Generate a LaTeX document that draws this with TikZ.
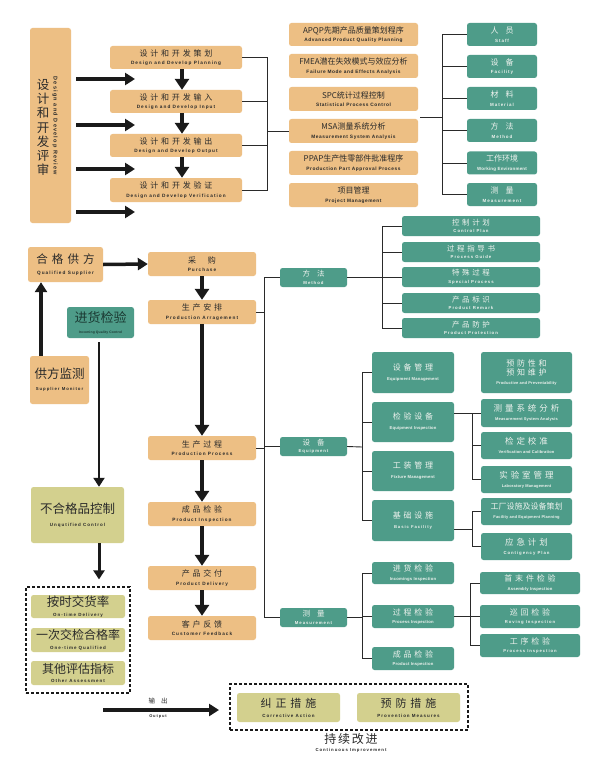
\documentclass[tikz,border=0pt]{standalone}
\usepackage{fontspec}
\setmainfont{Liberation Sans}
\newfontfamily\zhfont{Noto Sans CJK SC}
\newfontfamily\zhsp[LetterSpace=35]{Noto Sans CJK SC}
\newfontfamily\zhsm[LetterSpace=15]{Noto Sans CJK SC}
\newfontfamily\enfont[LetterSpace=22]{Liberation Sans}
\newfontfamily\enfontm[LetterSpace=12]{Liberation Sans}
\newfontfamily\enfontn[LetterSpace=4]{Liberation Sans}
\usetikzlibrary{arrows.meta}
\definecolor{orangeC}{HTML}{EDBF84}
\definecolor{greenC}{HTML}{4E9C89}
\definecolor{khakiC}{HTML}{D3D08E}
\definecolor{darkT}{HTML}{2A2A2A}
\definecolor{lightT}{HTML}{EEF2EE}
\definecolor{iqcT}{HTML}{1B3A33}
\definecolor{lineC}{HTML}{2A2A2A}
\definecolor{arrowC}{HTML}{1A1A1A}
\newcommand\ZS[2]{{\zhsp\fontsize{#1}{#1}\selectfont #2}}
\newcommand\ZN[2]{{\zhfont\fontsize{#1}{#1}\selectfont #2}}
\newcommand\ZM[2]{{\zhsm\fontsize{#1}{#1}\selectfont #2}}
\newcommand\ES[2]{{\enfont\bfseries\fontsize{#1}{#1}\selectfont #2}}
\newcommand\EM[2]{{\enfontm\bfseries\fontsize{#1}{#1}\selectfont #2}}
\newcommand\EN[2]{{\enfontn\bfseries\fontsize{#1}{#1}\selectfont #2}}
\tikzset{
 bx/.style={rounded corners=2.5pt, inner sep=0pt, align=center, font=\fontsize{5}{8.5}\selectfont},
 ob/.style={bx, fill=orangeC, text=darkT},
 gb/.style={bx, fill=greenC, text=lightT},
 kb/.style={bx, fill=khakiC, text=darkT},
 sz/.style 2 args={minimum width=#1pt, minimum height=#2pt},
 conn/.style={draw=lineC, line width=0.9pt},
 barrow/.style={draw=arrowC, line width=3.5pt, -{Triangle[length=10pt,width=12pt]}},
 darrow/.style={draw=arrowC, line width=4.5pt, -{Triangle[length=11pt,width=14pt]}},
 marrow/.style={draw=arrowC, line width=2.5pt, -{Triangle[length=9pt,width=11pt]}},
 dashbox/.style={draw=arrowC, line width=1.2pt, dash pattern=on 3pt off 2pt, inner sep=0pt},
 lbl/.style={inner sep=0pt, align=center, text=darkT},
}
\begin{document}
\begin{tikzpicture}[x=1pt,y=-1pt]
\fill[white] (0,0) rectangle (601,762);
\useasboundingbox (0,0) rectangle (601,762);

% ---------- design review ----------
\node[ob, sz={41}{195}] (rev) at (50.5,125.5) {};
\node[lbl, font=\zhfont\fontsize{12.5}{14.2}\selectfont] (revzh) at (43,127.5) {设\\计\\和\\开\\发\\评\\审};
\node[lbl, rotate=-90] (reven) at (55,126) {\ES{5.5}{Design and Develop Review}};

\node[ob, sz={132}{23}] (d1) at (176,57.5) {\ZS{8}{设计和开发策划}\\\ES{4.7}{Design and Develop Planning}};
\node[ob, sz={132}{23}] (d2) at (176,101.5) {\ZS{8}{设计和开发输入}\\\ES{4.7}{Design and Develop Input}};
\node[ob, sz={132}{23}] (d3) at (176,145.5) {\ZS{8}{设计和开发输出}\\\ES{4.7}{Design and Develop Output}};
\node[ob, sz={132}{24}] (d4) at (176,190) {\ZS{8}{设计和开发验证}\\\ES{4.7}{Design and Develop Verification}};

\foreach \y [count=\i] in {79,125,169,212}{
  \coordinate (la\i) at (76,\y);
  \coordinate (lb\i) at (135,\y);
  \draw[barrow] (la\i) -- (lb\i);
}
\draw[darrow] ([xshift=6pt]d1.south) -- ([xshift=6pt]d2.north);
\draw[darrow] ([xshift=6pt]d2.south) -- ([xshift=6pt]d3.north);
\draw[darrow] ([xshift=6pt]d3.south) -- ([xshift=6pt]d4.north);

% ---------- tools column ----------
\node[ob, sz={129}{23}] (p1) at (353.5,34.5) {\ZN{8}{APQP先期产品质量策划程序}\\\EM{4.8}{Advanced Product Quality Planning}};
\node[ob, sz={129}{24}] (p2) at (353.5,66) {\ZN{8}{FMEA潜在失效模式与效应分析}\\\EM{4.8}{Failure Mode and Effects Analysis}};
\node[ob, sz={129}{24}] (p3) at (353.5,99) {\ZN{8}{SPC统计过程控制}\\\EM{4.8}{Statistical Process Control}};
\node[ob, sz={129}{24}] (p4) at (353.5,131) {\ZN{8}{MSA测量系统分析}\\\EM{4.8}{Measurement System Analysis}};
\node[ob, sz={129}{24}] (p5) at (353.5,163) {\ZN{8}{PPAP生产性零部件批准程序}\\\EM{4.8}{Production Part Approval Process}};
\node[ob, sz={129}{24}] (p6) at (353.5,195) {\ZN{8}{项目管理}\\\EM{4.8}{Project Management}};

\coordinate (s1) at (267,131);
\foreach \i in {1,...,4}{\draw[conn] (d\i.east) -| (s1);}
\draw[conn] (s1) -- (p4.west);

% ---------- 5M1E ----------
\node[gb, sz={70}{23}] (g1) at (502,34.5) {\ZN{8}{人\hspace{7pt}员}\\\ES{4.5}{Staff}};
\node[gb, sz={70}{23}] (g2) at (502,66.5) {\ZN{8}{设\hspace{7pt}备}\\\ES{4.5}{Facility}};
\node[gb, sz={70}{23}] (g3) at (502,98.5) {\ZN{8}{材\hspace{7pt}料}\\\ES{4.5}{Material}};
\node[gb, sz={70}{23}] (g4) at (502,130.5) {\ZN{8}{方\hspace{7pt}法}\\\ES{4.5}{Method}};
\node[gb, sz={70}{23}] (g5) at (502,163) {\ZN{8}{工作环境}\\\EN{4.5}{Working Environment}};
\node[gb, sz={70}{23}] (g6) at (502,194.5) {\ZN{8}{测\hspace{7pt}量}\\\ES{4.5}{Measurement}};
\coordinate (r0) at (420,117);
\coordinate (s2) at (442,117);
\draw[conn] (r0) -- (s2);
\foreach \i in {1,...,6}{\draw[conn] (s2) |- (g\i.west);}

% ---------- supplier / production line ----------
\node[ob, sz={75}{35}, font=\fontsize{5}{11.5}\selectfont] (qs) at (65.5,264.5) {\ZS{11.5}{合格供方}\\\ES{4.7}{Qualified Supplier}};
\node[ob, sz={108}{24}] (pur) at (202,264) {\ZN{8}{采\hspace{12pt}购}\\\ES{4.7}{Purchase}};
\node[ob, sz={108}{24}] (pa) at (202,312) {\ZS{8}{生产安排}\\\ES{4.7}{Production Arragement}};
\node[ob, sz={108}{24}] (pp) at (202,448) {\ZS{8}{生产过程}\\\ES{4.7}{Production Process}};
\node[ob, sz={108}{24}] (pi) at (202,514) {\ZS{8}{成品检验}\\\ES{4.7}{Product Inspection}};
\node[ob, sz={108}{24}] (pd) at (202,578) {\ZS{8}{产品交付}\\\ES{4.7}{Product Delivery}};
\node[ob, sz={108}{24}] (cf) at (202,628) {\ZS{8}{客户反馈}\\\ES{4.7}{Customer Feedback}};
\draw[barrow] (qs.east) -- (pur.west);
\draw[darrow] (pur.south) -- (pa.north);
\draw[darrow] (pa.south) -- (pp.north);
\draw[darrow] (pp.south) -- (pi.north);
\draw[darrow] (pi.south) -- (pd.north);
\draw[darrow] (pd.south) -- (cf.north);

\node[ob, sz={59}{48}, font=\fontsize{5}{12}\selectfont] (sm) at (59.5,380) {\ZN{12.5}{供方监测}\\\ES{4.3}{Supplier Monitor}};
\draw[barrow] ([xshift=-18.5pt]sm.north) -- ([xshift=-18.5pt]sm.north |- qs.south);

\node[gb, sz={67}{31}, text=iqcT, font=\fontsize{5}{11}\selectfont] (iqc) at (100.5,322.5) {\ZN{13}{进货检验}\\\EN{3.4}{Incoming Quality Control}};
\node[kb, sz={93}{56}, font=\fontsize{5}{12.5}\selectfont] (unq) at (77.5,515) {\ZN{12.5}{不合格品控制}\\\ES{4.5}{Unqutified Control}};
\coordinate (iq1) at (99,342);
\draw[marrow] (iq1) -- (iq1 |- unq.north);

\node[dashbox, sz={104}{106}] (db1) at (78,640) {};
\draw[marrow, line width=3pt] (unq.south -| iq1) -- ([yshift=7pt]db1.north -| iq1);
\node[kb, sz={94}{23}, font=\fontsize{5}{9.5}\selectfont] (k1) at (78,606.5) {\ZN{12.5}{按时交货率}\\\ES{4.5}{On-time Delivery}};
\node[kb, sz={94}{24}, font=\fontsize{5}{9.5}\selectfont] (k2) at (78,640) {\ZN{12}{一次交检合格率}\\\ES{4.5}{One-time Qualified}};
\node[kb, sz={94}{24}, font=\fontsize{5}{9.5}\selectfont] (k3) at (78,673) {\ZN{12}{其他评估指标}\\\ES{4.5}{Other Assessment}};

% ---------- output / continuous improvement ----------
\node[dashbox, sz={238}{46}] (db2) at (349,707) {};
\coordinate (o1) at (103,710);
\coordinate (o2) at (219,710);
\draw[barrow] (o1) -- (o2);
\node[lbl] (outzh) at (158,701) {\ZN{6.5}{输\hspace{6pt}出}};
\node[lbl] (outen) at (158,717) {\ES{4}{Output}};
\node[kb, sz={103}{29}, font=\fontsize{5}{10}\selectfont] (ca) at (288.5,707.5) {\ZS{11}{纠正措施}\\\ES{4.5}{Corrective Action}};
\node[kb, sz={103}{29}, font=\fontsize{5}{10}\selectfont] (pm) at (408.5,707.5) {\ZS{11}{预防措施}\\\ES{4.5}{Provention Measures}};
\node[lbl] (ci) at (351,739) {\ZM{12}{持续改进}};
\node[lbl] (cien) at (351,750) {\ES{4.3}{Continuous Improvement}};

% ---------- method / equipment / measurement tree ----------
\node[gb, sz={67}{19}, font=\fontsize{5}{7.5}\selectfont] (meth) at (313.5,277.5) {\ZN{7.5}{方\hspace{7pt}法}\\\ES{4.3}{Method}};
\node[gb, sz={67}{19}, font=\fontsize{5}{7.5}\selectfont] (eq) at (313.5,446.5) {\ZN{7.5}{设\hspace{7pt}备}\\\ES{4.3}{Equipment}};
\node[gb, sz={67}{19}, font=\fontsize{5}{7.5}\selectfont] (meas) at (313.5,617.5) {\ZN{7.5}{测\hspace{7pt}量}\\\ES{4.3}{Measurement}};
\coordinate (tr) at (264,446.5);
\draw[conn] (meth.west) -| (tr);
\draw[conn] (meas.west) -| (tr);
\draw[conn] (eq.west) -- (tr);
\draw[conn] (pa.east) -- (pa.east -| tr);
\draw[conn] (pp.east) -- (pp.east -| tr);

% method children
\node[gb, sz={138}{20}, font=\fontsize{5}{7.5}\selectfont] (c1) at (471,226) {\ZS{7.5}{控制计划}\\\ES{4.3}{Control Plan}};
\node[gb, sz={138}{20}, font=\fontsize{5}{7.5}\selectfont] (c2) at (471,252) {\ZS{7.5}{过程指导书}\\\ES{4.3}{Process Guide}};
\node[gb, sz={138}{20}, font=\fontsize{5}{7.5}\selectfont] (c3) at (471,277) {\ZS{7.5}{特殊过程}\\\ES{4.3}{Special Process}};
\node[gb, sz={138}{20}, font=\fontsize{5}{7.5}\selectfont] (c4) at (471,303) {\ZS{7.5}{产品标识}\\\ES{4.3}{Product Remark}};
\node[gb, sz={138}{20}, font=\fontsize{5}{7.5}\selectfont] (c5) at (471,328) {\ZS{7.5}{产品防护}\\\ES{4.3}{Product Protection}};
\coordinate (ms) at (382,277.5);
\draw[conn] (meth.east) -- (ms);
\foreach \i in {1,...,5}{\draw[conn] (ms) |- (c\i.west);}

% equipment children
\node[gb, sz={82}{41}, font=\fontsize{5}{10}\selectfont] (e1) at (413,372.5) {\ZS{8}{设备管理}\\\EN{4.2}{Equipment Management}};
\node[gb, sz={82}{40}, font=\fontsize{5}{10}\selectfont] (e2) at (413,422) {\ZS{8}{检验设备}\\\EN{4.2}{Equipment Inspection}};
\node[gb, sz={82}{40}, font=\fontsize{5}{10}\selectfont] (e3) at (413,471) {\ZS{8}{工装管理}\\\EN{4.2}{Fixture Management}};
\node[gb, sz={82}{41}, font=\fontsize{5}{10}\selectfont] (e4) at (413,520.5) {\ZS{8}{基础设施}\\\ES{4.2}{Basic Facility}};
\coordinate (es) at (362,447);
\draw[conn] (eq.east) -- (es);
\foreach \i in {1,...,4}{\draw[conn] (es) |- (e\i.west);}

\node[gb, sz={91}{41}, font=\fontsize{5}{9}\selectfont] (f0) at (526.5,372.5) {\ZS{8}{预防性和}\\\ZS{8}{预知维护}\\\EN{4}{Productive and Preventability}};
\node[gb, sz={91}{28}, font=\fontsize{5}{9}\selectfont] (f1) at (526.5,413) {\ZS{8.5}{测量系统分析}\\\EN{4}{Measurement System Analysis}};
\node[gb, sz={91}{27}, font=\fontsize{5}{9}\selectfont] (f2) at (526.5,445.5) {\ZS{8.5}{检定校准}\\\EN{4}{Verification and Calibration}};
\node[gb, sz={91}{27}, font=\fontsize{5}{9}\selectfont] (f3) at (526.5,479.5) {\ZS{8.5}{实验室管理}\\\EN{4}{Laboratory Management}};
\coordinate (es2) at (472,413);
\draw[conn] (e2.east |- es2) -- (f1.west);
\draw[conn] (es2) |- (f2.west);
\draw[conn] (es2) |- (f3.west);

\node[gb, sz={91}{27}, font=\fontsize{5}{9}\selectfont] (h1) at (526.5,511.5) {\ZN{8}{工厂设施及设备策划}\\\EN{4}{Facility and Equipment Planning}};
\node[gb, sz={91}{27}, font=\fontsize{5}{9}\selectfont] (h2) at (526.5,546.5) {\ZS{8.5}{应急计划}\\\ES{4.3}{Contigency Plan}};
\coordinate (es3) at (472,529);
\draw[conn] (e4.east |- es3) -- (es3);
\draw[conn] (es3) |- (h1.west);
\draw[conn] (es3) |- (h2.west);

% measurement children
\node[gb, sz={82}{22}, font=\fontsize{5}{8.5}\selectfont] (m1) at (413,573) {\ZS{8}{进货检验}\\\EN{4.2}{Incomings Inspection}};
\node[gb, sz={82}{23}, font=\fontsize{5}{8.5}\selectfont] (m2) at (413,616.5) {\ZS{8}{过程检验}\\\EN{4.2}{Process Inspection}};
\node[gb, sz={82}{23}, font=\fontsize{5}{8.5}\selectfont] (m3) at (413,658.5) {\ZS{8}{成品检验}\\\EN{4.2}{Product Inspection}};
\coordinate (mss) at (362,617.5);
\draw[conn] (meas.east) -- (mss);
\foreach \i in {1,...,3}{\draw[conn] (mss) |- (m\i.west);}

\node[gb, sz={100}{22}, font=\fontsize{5}{8.5}\selectfont] (n1) at (530,583) {\ZS{8}{首末件检验}\\\EN{4.2}{Assembly Inspection}};
\node[gb, sz={100}{23}, font=\fontsize{5}{8.5}\selectfont] (n2) at (530,616.5) {\ZS{8}{巡回检验}\\\ES{4.2}{Roving Inspection}};
\node[gb, sz={100}{23}, font=\fontsize{5}{8.5}\selectfont] (n3) at (530,645.5) {\ZS{8}{工序检验}\\\ES{4.2}{Process Inspection}};
\coordinate (ms2) at (470,616.5);
\draw[conn] (m2.east) -- (ms2);
\foreach \i in {1,...,3}{\draw[conn] (ms2) |- (n\i.west);}
\end{tikzpicture}
\end{document}
